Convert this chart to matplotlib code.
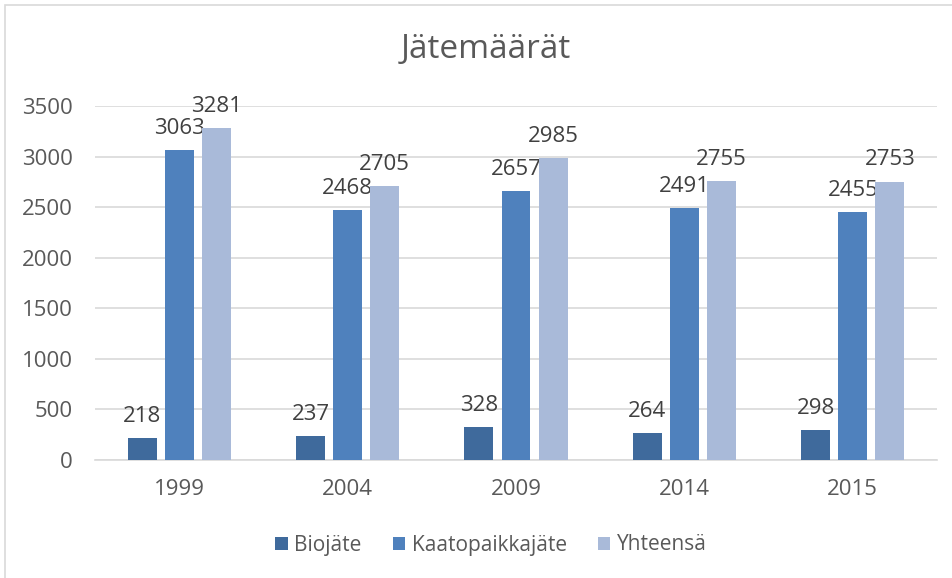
import matplotlib.pyplot as plt
import numpy as np
from matplotlib.patches import Rectangle

# data ----------------------------
years = ["1999", "2004", "2009", "2014", "2015"]
biojate = [218, 237, 328, 264, 298]
kaatopaikkajate = [3063, 2468, 2657, 2491, 2455]
yhteensa = [3281, 2705, 2985, 2755, 2753]
series_names = ["Biojäte", "Kaatopaikkajäte", "Yhteensä"]
# ---------------------------------

colors = ["#3F6A9C", "#4F81BD", "#A9BAD9"]
txt = "#595959"

plt.rcParams['font.family'] = ['Open Sans', 'DejaVu Sans']

fig = plt.figure(figsize=(9.52, 5.78), dpi=100)
fig.patch.set_facecolor('white')
ax = fig.add_axes([95/952, 1 - 460/578, 842/952, 354/578])

x = np.arange(len(years))
w = 0.172
step = 0.22
for i, (vals, name) in enumerate(zip([biojate, kaatopaikkajate, yhteensa], series_names)):
    bars = ax.bar(x + (i - 1) * step, vals, w, color=colors[i], label=name, zorder=3)
    for b, v in zip(bars, vals):
        ax.annotate(str(v), (b.get_x() + b.get_width() / 2, v), xytext=(0, 8),
                    textcoords='offset points', ha='center', va='bottom',
                    fontsize=16, color='#404040')

ax.set_xlim(-0.5, len(years) - 0.5)
ax.set_ylim(0, 3500)
ax.set_yticks(np.arange(0, 3501, 500))
ax.set_xticks(x)
ax.set_xticklabels(years)
ax.yaxis.grid(True, color='#D9D9D9', linewidth=1.2, zorder=0)
for s in ['top', 'right', 'left']:
    ax.spines[s].set_visible(False)
ax.spines['bottom'].set_color('#D9D9D9')
ax.spines['bottom'].set_linewidth(1.2)
ax.tick_params(axis='both', length=0, labelsize=16, colors=txt)
ax.tick_params(axis='x', pad=14)
ax.tick_params(axis='y', pad=16)

fig.text(486/952, 1 - 49/578, "Jätemäärät", ha='center', va='center',
         fontsize=24, color=txt)

leg = fig.legend(loc='center', bbox_to_anchor=(491/952, 1 - 545/578), ncol=3,
                 frameon=False, fontsize=15, handlelength=0.6, handleheight=0.6,
                 handletextpad=0.3, columnspacing=1.5)
for t in leg.get_texts():
    t.set_color(txt)

fig.add_artist(Rectangle((5/952, -0.05), 1.0, 1 - 5/578 + 0.05, transform=fig.transFigure,
                         fill=False, edgecolor='#D9D9D9', linewidth=1.2))

fig.savefig("out.png", dpi=100)
